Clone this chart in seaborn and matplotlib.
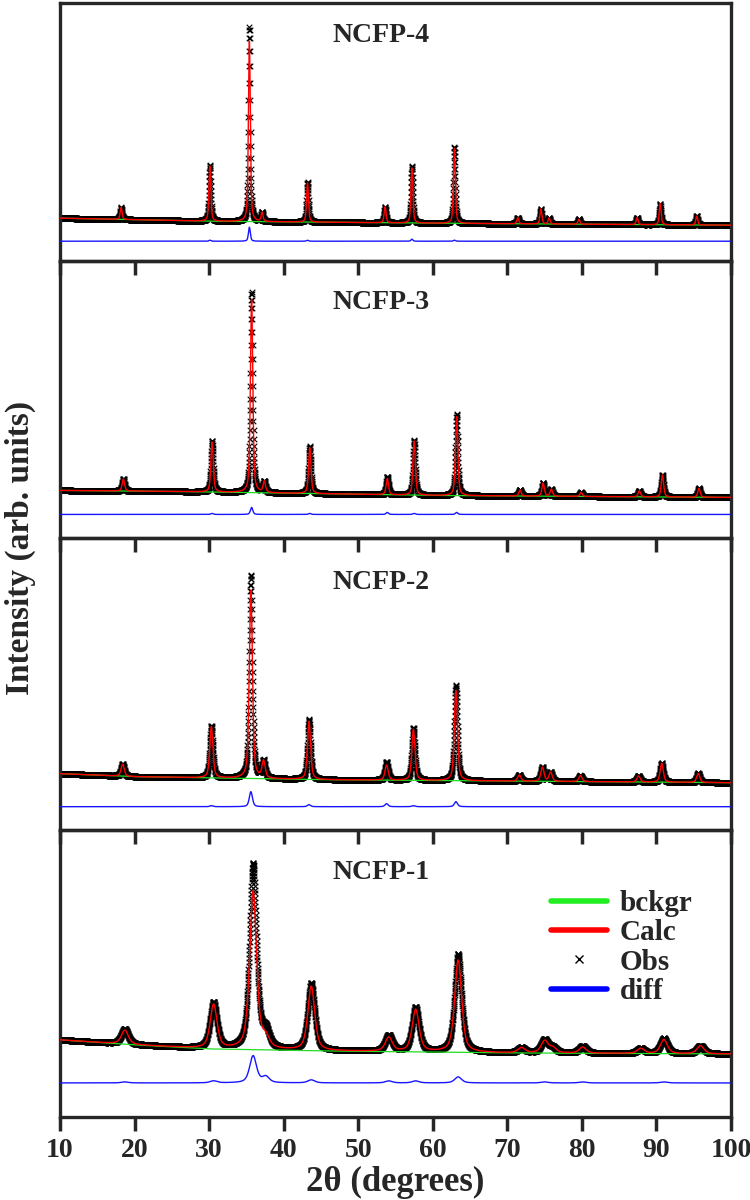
import numpy as np
import pandas as pd
import matplotlib
matplotlib.use("Agg")
import matplotlib.pyplot as plt
from matplotlib.lines import Line2D
import seaborn as sns

# Sample names, top to bottom
samples = ["NCFP-4", "NCFP-3", "NCFP-2", "NCFP-1"]

# Reflection positions (2theta, deg) and per-sample shift
peak_pos = [18.2, 30.1, 35.4, 37.1, 43.2, 53.6, 57.2, 62.9, 71.4, 74.5, 75.6, 79.6, 87.4, 90.5, 95.4]
peak_shift = [0.0, 0.3, 0.2, 0.5]
peak_fwhm = [0.30, 0.38, 0.50, 1.10]
peak_eta = [0.5, 0.5, 0.5, 0.55]

# Calculated peak heights (arb. units) per sample
calc_ncfp4 = [12, 55, 180, 9, 39, 16, 55, 75, 6, 15, 6, 5, 7, 21, 9]
calc_ncfp3 = [12, 50, 193, 11, 46, 16, 54, 79, 6, 13, 7, 4, 6, 22, 9]
calc_ncfp2 = [12, 51, 188, 17, 58, 15, 51, 90, 6, 14, 9, 6, 6, 19, 9]
calc_ncfp1 = [14, 44, 158, 10, 64, 14, 42, 92, 5, 12, 5, 6, 5, 14, 8]

# Observed peak heights (arb. units) per sample
obs_ncfp4 = [12, 56, 194, 9, 40, 16, 57, 76, 6, 15, 6, 5, 7, 21, 9]
obs_ncfp3 = [12, 51, 200, 11, 47, 18, 55, 81, 6, 13, 7, 4, 6, 22, 9]
obs_ncfp2 = [12, 52, 203, 17, 60, 18, 52, 95, 6, 14, 9, 6, 6, 19, 9]
obs_ncfp1 = [15, 46, 185, 16, 67, 16, 44, 98, 5, 13, 5, 7, 5, 15, 8]

# Background anchor points (2theta, level)
bg_x_ncfp4 = [10, 30, 60, 100]
bg_y_ncfp4 = [43, 40, 38, 36]
bg_x_ncfp3 = [10, 25, 60, 100]
bg_y_ncfp3 = [48, 47, 43, 41]
bg_x_ncfp2 = [10, 20, 45, 100]
bg_y_ncfp2 = [56, 53, 50, 47]
bg_x_ncfp1 = [10, 20, 30, 45, 70, 100]
bg_y_ncfp1 = [77, 72, 68, 66, 64, 63]

calc_h = [calc_ncfp4, calc_ncfp3, calc_ncfp2, calc_ncfp1]
obs_h = [obs_ncfp4, obs_ncfp3, obs_ncfp2, obs_ncfp1]
bg_x = [bg_x_ncfp4, bg_x_ncfp3, bg_x_ncfp2, bg_x_ncfp1]
bg_y = [bg_y_ncfp4, bg_y_ncfp3, bg_y_ncfp2, bg_y_ncfp1]

# layout
diff_offset = [20, 24, 23, 34]
ylims = [(0, 258), (0, 277), (0, 291), (0, 287)]

two_theta = np.arange(10, 100.001, 0.02)


def pseudo_voigt(x, center, height, fwhm, eta):
    u = (x - center) / fwhm
    g = np.exp(-4 * np.log(2) * u ** 2)
    l = 1 / (1 + 4 * u ** 2)
    return height * (eta * l + (1 - eta) * g)


sns.set_style("ticks")
plt.rcParams["font.family"] = ["Liberation Serif", "DejaVu Serif"]
plt.rcParams["font.weight"] = "bold"

fig = plt.figure(figsize=(7.5, 12), dpi=100)
gs = fig.add_gridspec(4, 1, height_ratios=[258, 277, 291, 287], left=0.08, right=0.9747,
                      top=0.9975, bottom=0.0692, hspace=0)

for i, name in enumerate(samples):
    ax = fig.add_subplot(gs[i])
    ax.set_facecolor("none")
    bck = np.interp(two_theta, bg_x[i], bg_y[i])
    calc = bck.copy()
    obs = bck.copy()
    for p, hc, ho in zip(peak_pos, calc_h[i], obs_h[i]):
        calc += pseudo_voigt(two_theta, p + peak_shift[i], hc, peak_fwhm[i], peak_eta[i])
        obs += pseudo_voigt(two_theta, p + peak_shift[i], ho, peak_fwhm[i], peak_eta[i])
    df = pd.DataFrame({"tt": two_theta, "obs": obs, "calc": calc, "bck": bck,
                       "diff": obs - calc + diff_offset[i]})

    sns.scatterplot(data=df, x="tt", y="obs", marker="x", color="black", s=16,
                    linewidth=0.8, ax=ax, legend=False, zorder=1)
    sns.lineplot(data=df, x="tt", y="bck", color="#22dd22", lw=0.9, ax=ax,
                 estimator=None, sort=False, zorder=2)
    sns.lineplot(data=df, x="tt", y="calc", color="red", lw=1.0, ax=ax,
                 estimator=None, sort=False, zorder=3)
    sns.lineplot(data=df, x="tt", y="diff", color="#1515ff", lw=1.0, ax=ax,
                 estimator=None, sort=False, zorder=3)

    ax.set_xlim(10, 100)
    ax.set_ylim(*ylims[i])
    ax.set_xticks(range(10, 101, 10))
    ax.set_yticks([])
    ax.set_xlabel("")
    ax.set_ylabel("")
    for sp in ax.spines.values():
        sp.set_linewidth(2.4)
    # ticks point down from every panel border (into the panel below)
    ax.tick_params(axis="x", direction="out", length=10, width=2.5, bottom=True,
                   top=False, labelbottom=(i == 3), labelsize=20, pad=5)
    ax.text(0.478, 0.85 if i else 0.876, name, transform=ax.transAxes, ha="center",
            va="center", fontsize=20, fontweight="bold")

    if i == 3:
        ax.set_xlabel("2θ (degrees)", fontsize=25, fontweight="bold", labelpad=2)
        handles = [
            Line2D([], [], color="#22ee22", lw=4),
            Line2D([], [], color="red", lw=4),
            Line2D([], [], color="black", marker="x", ls="none", markersize=6, mew=1),
            Line2D([], [], color="blue", lw=4),
        ]
        ax.legend(handles, ["bckgr", "Calc", "Obs", "diff"], loc="upper left",
                  bbox_to_anchor=(0.732, 0.79), frameon=False, borderpad=0,
                  borderaxespad=0, handlelength=1.9, handletextpad=0.45,
                  labelspacing=0.08, prop={"size": 21, "weight": "bold"})

fig.text(20 / 750, 1 - 548 / 1200, "Intensity (arb. units)", rotation=90, ha="center",
         va="center", fontsize=24, fontweight="bold")

fig.savefig("out.png", dpi=100)
